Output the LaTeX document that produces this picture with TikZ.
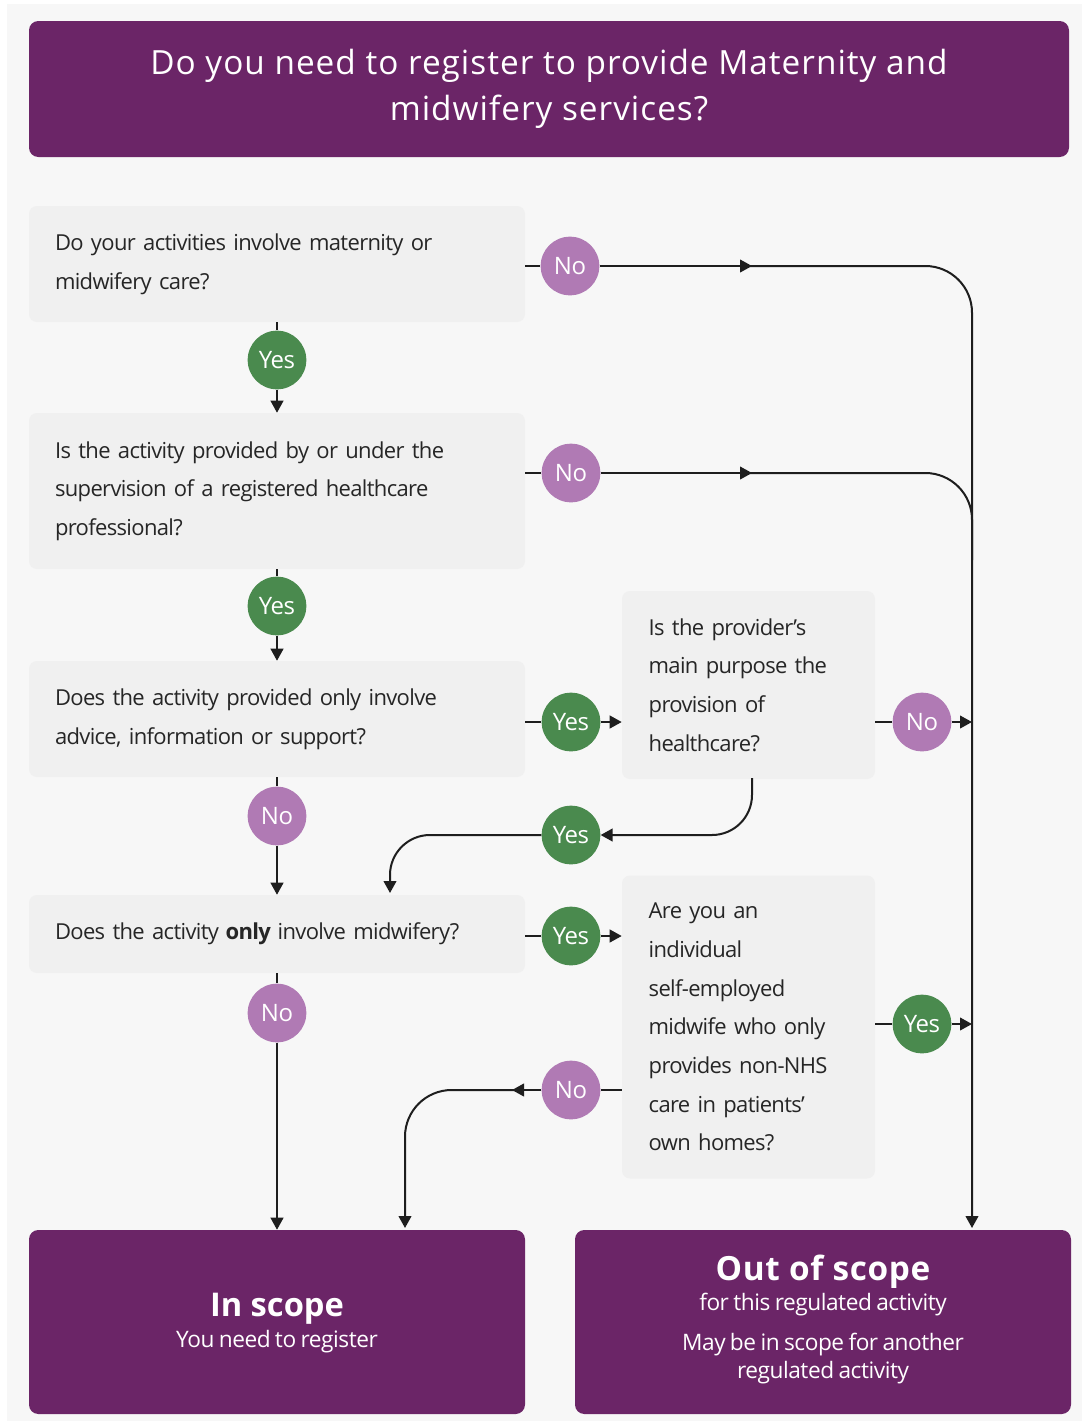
\documentclass[tikz,border=0pt]{standalone}
\usepackage{fontspec}
\setmainfont{Open Sans}
\newfontfamily\bodyfam{Open Sans}[LetterSpace=-3,WordSpace=0.7]
\newfontfamily\subfam{Open Sans}[LetterSpace=-2,WordSpace=0.8]
\usetikzlibrary{arrows.meta}
\definecolor{purp}{HTML}{6B2567}
\definecolor{pinkc}{HTML}{B07AB4}
\definecolor{grn}{HTML}{4A8A4E}
\definecolor{boxg}{HTML}{F0F0F0}
\definecolor{bgc}{HTML}{F7F7F7}
\definecolor{lnc}{HTML}{1E1E1E}
\newcommand{\bodyfont}{\bodyfam\fontsize{16.5pt}{29pt}\selectfont}
\newcommand{\subfont}{\subfam\fontsize{17pt}{21pt}\selectfont}
\begin{document}
\begin{tikzpicture}[x=0.75pt,y=-0.75pt,
  qbox/.style={fill=boxg, rounded corners=6pt, inner xsep=19.5pt, inner ysep=0pt, align=left, text=black!85, font=\bodyfont},
  wide/.style={minimum width=372pt, text width=333pt},
  narrow/.style={minimum width=189.75pt, text width=149.75pt, inner xsep=20pt},
  pbox/.style={fill=purp, rounded corners=7pt, text=white, align=center, inner sep=0pt},
  otxt/.style={text=white, inner sep=0pt, anchor=center},
  ans/.style={circle, minimum size=44pt, inner sep=0pt, text=white, font=\subfam\fontsize{18pt}{20pt}\selectfont},
  no/.style={ans, fill=pinkc},
  yes/.style={ans, fill=grn},
  conn/.style={draw=lnc, line width=1.5pt},
  arr/.style={conn, -{Triangle[length=9pt,width=9.5pt]}}
]
\useasboundingbox (0,0) rectangle (1086,1425);
\fill[white] (0,0) rectangle (1086,1425);
\fill[bgc] (7,4) rectangle (1082,1421);

% title
\node[pbox, minimum width=780pt, minimum height=102pt, font=\addfontfeatures{LetterSpace=3}\fontsize{25pt}{35pt}\selectfont] (title) at (549,89)
  {Do you need to register to provide Maternity and\\midwifery services?};

% questions
\node[qbox, wide, minimum height=87pt] (q1) at (277,264)
  {Do your activities involve maternity or\\midwifery care?};
\node[qbox, wide, minimum height=117pt] (q2) at (277,491)
  {Is the activity provided by or under the\\supervision of a registered healthcare\\professional?};
\node[qbox, wide, minimum height=87pt] (q3) at (277,719)
  {Does the activity provided only involve\\advice, information or support?};
\node[qbox, wide, minimum height=58.5pt] (q4) at (277,934)
  {Does the activity \textbf{only} involve midwifery?};
\node[qbox, narrow, minimum height=141pt] (q5) at (748.5,685)
  {Is the provider’s\\main purpose the\\provision of\\healthcare?};
\node[qbox, narrow, minimum height=227.25pt] (q6) at (748.5,1027)
  {Are you an\\individual\\self-employed\\midwife who only\\provides non-NHS\\care in patients’\\own homes?};

% outcomes
\node[pbox, minimum width=372pt, minimum height=138pt] (insc) at (277,1322) {};
\node[otxt, font=\fontsize{24.5pt}{28pt}\selectfont\bfseries] (insc1) at (277,1309) {In scope};
\node[otxt, font=\subfont] (insc2) at (277,1342) {You need to register};

\node[pbox, minimum width=372pt, minimum height=138pt] (outsc) at (823,1322) {};
\node[otxt, font=\addfontfeatures{LetterSpace=2}\fontsize{25pt}{28pt}\selectfont\bfseries] (out1) at (823,1272) {Out of scope};
\node[otxt, font=\subfont] (out2) at (823,1305) {for this regulated activity};
\node[otxt, font=\subfont] (out3) at (823,1345) {May be in scope for another};
\node[otxt, font=\subfont] (out4) at (823,1373) {regulated activity};

% answers
\node[no]  (n1) at (570,266) {No};
\node[no]  (n2) at (571,473) {No};
\node[yes] (y1) at (277,360) {Yes};
\node[yes] (y2) at (277,606) {Yes};
\node[yes] (y3) at (571,722) {Yes};
\node[no]  (n3) at (922,722) {No};
\node[yes] (y4) at (571,835) {Yes};
\node[no]  (n4) at (277,816) {No};
\node[yes] (y5) at (571,936) {Yes};
\node[no]  (n5) at (277,1013) {No};
\node[yes] (y6) at (922,1024) {Yes};
\node[no]  (n6) at (571,1090) {No};

% helper coordinates
\coordinate (m1) at (752,266);
\coordinate (m1b) at (745,266);
\coordinate (m2) at (752,473);
\coordinate (m2b) at (745,473);
\coordinate (rail) at (972,1228);
\coordinate (railb) at (972,560);
\coordinate (rail3) at (972,722);
\coordinate (rail6) at (972,1024);
\coordinate (s5) at (752,778);
\coordinate (j4) at (390,893);
\coordinate (m6) at (512,1090);
\coordinate (m6b) at (518,1090);
\coordinate (j6) at (405,1228);

% connectors
\draw[conn] (q1.east |- n1) -- (n1);
\draw[arr] (n1) -- (m1);
\draw[arr, rounded corners=35pt] (m1b) -| (rail);

\draw[conn] (q2.east |- n2) -- (n2);
\draw[arr] (n2) -- (m2);
\draw[conn, rounded corners=35pt] (m2b) -| (railb);

\draw[conn] (q1.south -| y1) -- (y1);
\draw[arr] (y1) -- (q2.north);
\draw[conn] (q2.south) -- (y2);
\draw[arr] (y2) -- (q3.north);

\draw[conn] (q3.east |- y3) -- (y3);
\draw[arr] (y3) -- (y3 -| q5.west);
\draw[conn] (q5.east |- n3) -- (n3);
\draw[arr] (n3) -- (rail3);

\draw[arr, rounded corners=30pt] (s5) |- (y4.east);
\draw[arr, rounded corners=30pt] (y4.west) -| (j4);

\draw[conn] (q3.south) -- (n4);
\draw[arr] (n4) -- (q4.north);

\draw[conn] (q4.east |- y5) -- (y5);
\draw[arr] (y5) -- (y5 -| q6.west);
\draw[conn] (q6.east |- y6) -- (y6);
\draw[arr] (y6) -- (rail6);

\draw[conn] (q6.west |- n6) -- (n6);
\draw[arr] (n6) -- (m6);
\draw[arr, rounded corners=35pt] (m6b) -| (j6);

\draw[conn] (q4.south) -- (n5);
\draw[arr] (n5) -- (insc.north);
\end{tikzpicture}
\end{document}
